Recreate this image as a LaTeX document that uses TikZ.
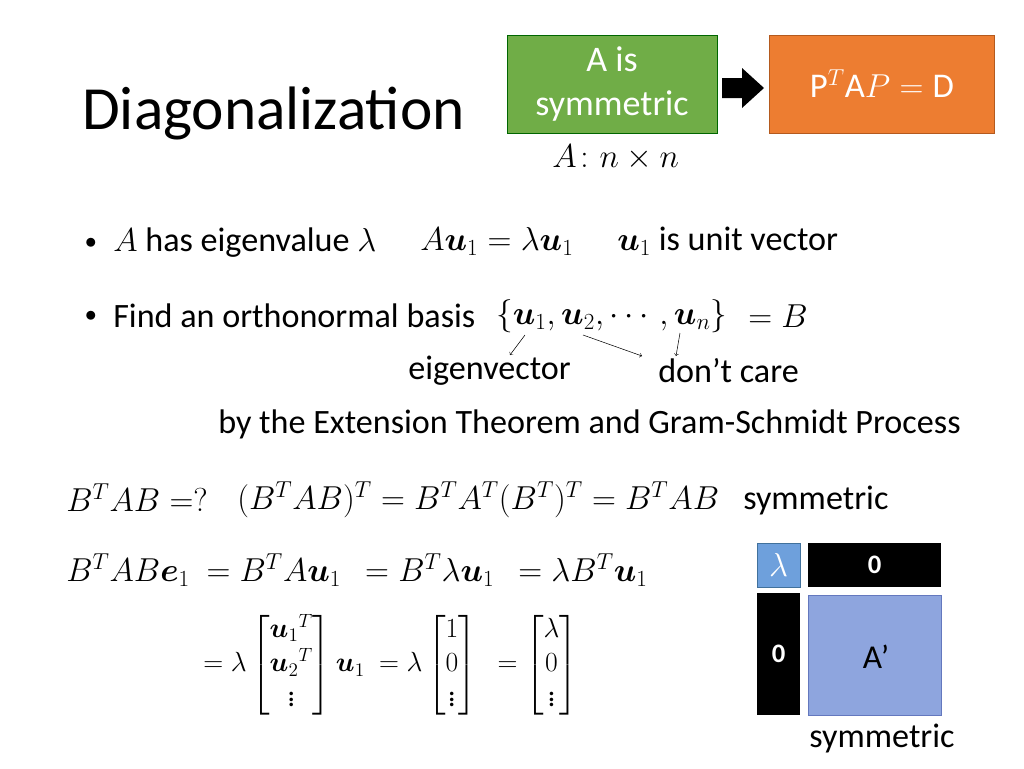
\documentclass[tikz,border=0pt]{standalone}
\usepackage{amsmath}
\usepackage{fontspec}
\setmainfont{Carlito}
\begin{document}
\begin{tikzpicture}[x=0.75pt,y=-0.75pt,
  txt/.style={inner sep=0pt,anchor=west,font=\fontsize{25.6}{30}\selectfont},
  mth/.style={inner sep=0pt,anchor=west,font=\fontsize{24.5}{29}\selectfont}]
\useasboundingbox (0,0) rectangle (1024,768);
\node[inner sep=0pt,anchor=west,font=\fontsize{46}{50}\selectfont] (title) at (82,113) {Diagonalization};
\node[draw=green!40!black,fill={rgb,255:red,112;green,173;blue,71},minimum width=210*0.75pt,minimum height=98*0.75pt,text=white,align=center,font=\fontsize{27}{33}\selectfont] (sym) at (612,84) {A is\\symmetric};
\node[draw={rgb,255:red,180;green,90;blue,30},fill={rgb,255:red,237;green,125;blue,49},minimum width=225*0.75pt,minimum height=98*0.75pt,text=white,font=\fontsize{26}{30}\selectfont] (pap) at (882,84) {$\mathrm{P}^T\mathrm{A}P=\mathrm{D}$};
\fill (722,78) -- (742,78) -- (742,68) -- (764,88) -- (742,108) -- (742,98) -- (722,98) -- cycle;
\node[mth,font=\fontsize{23}{27}\selectfont] (ann) at (552,158) {$A\colon n\times n$};
\node[inner sep=0pt,font=\fontsize{18}{20}\selectfont] (d1) at (91,243) {$\bullet$};
\node[txt] (b1) at (113,243) {$A$ has eigenvalue $\lambda$};
\node[mth] (e1) at (420,241) {$A\boldsymbol{u}_1=\lambda\boldsymbol{u}_1$};
\node[txt] (e2) at (617,241) {$\boldsymbol{u}_1$ is unit vector};
\node[inner sep=0pt,font=\fontsize{18}{20}\selectfont] (d2) at (91,316) {$\bullet$};
\node[txt] (b2) at (113,316) {Find an orthonormal basis};
\node[mth] (set) at (496,316) {$\{\boldsymbol{u}_1,\boldsymbol{u}_2,\cdots,\boldsymbol{u}_n\}$};
\node[mth] (eqB) at (748,316) {$=B$};
\node[txt] (ev) at (408,371) {eigenvector};
\node[txt] (dc) at (658,371) {don't care};
\draw[->] (525,335) -- (510,355);
\draw[->] (583,335) -- (642,356);
\draw[->] (680,333) -- (676,356);
\node[txt] (ext) at (218,424) {by the Extension Theorem and Gram-Schmidt Process};
\node[mth] (q) at (66,498) {$B^TAB=?$};
\node[mth] (tr) at (237,500) {$(B^TAB)^T=B^TA^T(B^T)^T=B^TAB$};
\node[txt] (s1) at (743,500) {symmetric};
\node[mth] (l1) at (66,570) {$B^TAB\boldsymbol{e}_1\ =B^TA\boldsymbol{u}_1\ \ =B^T\lambda\boldsymbol{u}_1\ \ =\lambda B^T\boldsymbol{u}_1$};
\node[mth,font=\fontsize{22}{26}\selectfont] (l2) at (203,665) {$=\lambda\begin{bmatrix}{\boldsymbol{u}_1}^T\\ {\boldsymbol{u}_2}^T\\ \vdots\end{bmatrix}\boldsymbol{u}_1\ =\lambda\begin{bmatrix}1\\0\\ \vdots\end{bmatrix}\ \ =\begin{bmatrix}\lambda\\0\\ \vdots\end{bmatrix}$};
\node[draw={rgb,255:red,65;green,113;blue,156},fill={rgb,255:red,110;green,160;blue,220},minimum width=43*0.75pt,minimum height=44*0.75pt,text=white,font=\fontsize{24}{28}\selectfont] (lam) at (778.5,565) {$\lambda$};
\node[fill=black,minimum width=133*0.75pt,minimum height=44*0.75pt,text=white,font=\bfseries\fontsize{20}{24}\selectfont] (z1) at (874.5,565) {0};
\node[fill=black,minimum width=43*0.75pt,minimum height=122*0.75pt,text=white,font=\bfseries\fontsize{20}{24}\selectfont] (z2) at (778.5,654) {0};
\node[draw={rgb,255:red,100;green,120;blue,190},fill={rgb,255:red,142;green,165;blue,222},minimum width=133*0.75pt,minimum height=120*0.75pt] (ap) at (874.5,655) {};
\node[inner sep=0pt,font=\fontsize{25}{30}\selectfont] (apl) at (876,657) {A'};
\node[inner sep=0pt,font=\fontsize{25.6}{30}\selectfont] (s2) at (882,738) {symmetric};
\end{tikzpicture}
\end{document}
